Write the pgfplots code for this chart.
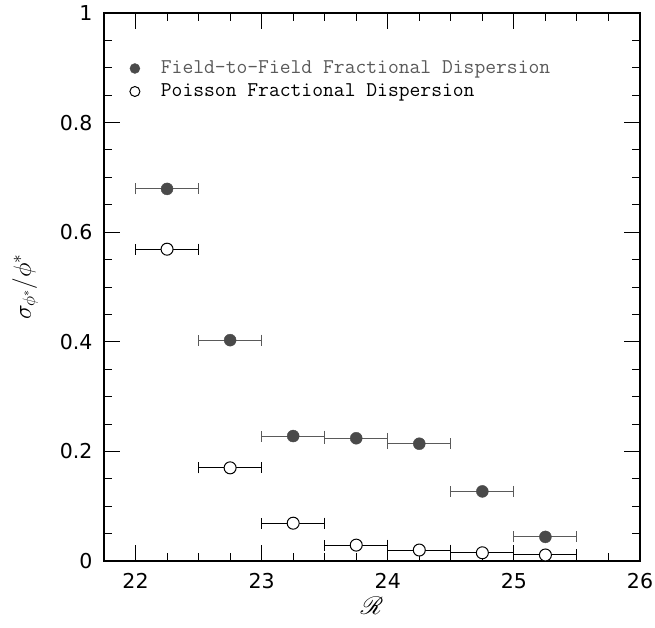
\documentclass[border=0pt]{standalone}
\usepackage{fontspec}
\usepackage{mathrsfs}
\usepackage{pgfplots}
\pgfplotsset{compat=1.18}
\newfontfamily\tickfont{DejaVu Sans}
\definecolor{fgray}{HTML}{4A4A4A}
\definecolor{bgray}{HTML}{5A5A5A}
\pgfplotstableread{
x y ex
22.25 0.679 0.25
22.75 0.403 0.25
23.25 0.228 0.25
23.75 0.224 0.25
24.25 0.214 0.25
24.75 0.127 0.25
25.25 0.044 0.25
}\fieldtab
\pgfplotstableread{
x y ex
22.25 0.569 0.25
22.75 0.170 0.25
23.25 0.069 0.25
23.75 0.029 0.25
24.25 0.020 0.25
24.75 0.015 0.25
25.25 0.011 0.25
}\poissontab
\begin{document}
\begin{tikzpicture}
\begin{axis}[
 scale only axis, width=536pt, height=548pt,
 xmin=21.75, xmax=26, ymin=0, ymax=1,
 xtick={22,23,24,25,26}, ytick={0,0.2,0.4,0.6,0.8,1},
 minor x tick num=3, minor y tick num=3,
 major tick length=16pt, minor tick length=8pt,
 every tick/.style={line width=1pt, black},
 axis line style={line width=1.6pt},
 /pgf/number format/assume math mode=true,
 tick label style={font=\tickfont\fontsize{20.5}{24}\selectfont},
 yticklabel style={xshift=-8pt},
 xticklabel style={yshift=-9pt},
 xlabel={$\mathscr{R}$}, ylabel={$\sigma_{\phi^*}/\phi^*$},
 every axis x label/.style={at={(axis description cs:0.5,-0.082)}, anchor=center, font=\fontsize{26}{30}\selectfont},
 every axis y label/.style={at={(axis description cs:-0.147,0.5)}, rotate=90, anchor=center, font=\fontsize{24}{28}\selectfont},
 legend cell align=left,
 legend style={at={(axis cs:21.93,0.921)}, anchor=north west, draw=none, fill=none,
   font=\ttfamily\fontsize{21}{22}\selectfont, row sep=3pt, column sep=20pt,
   nodes={inner sep=1pt, text height=14pt, text depth=4pt}},
 legend image post style={mark size=5pt},
]
\addplot[only marks, mark=*, mark size=6pt, mark options={fill=fgray, draw=fgray},
  error bars/.cd, x dir=both, x explicit,
  error bar style={line width=1pt, color=bgray},
  error mark options={line width=1pt, mark size=5.5pt, color=bgray, rotate=90}]
  table[x=x, y=y, x error=ex] {\fieldtab};
\addlegendentry{\textcolor{bgray}{Field-to-Field Fractional Dispersion}}
\addplot[only marks, mark=*, mark size=6pt, mark options={fill=white, draw=black, line width=1pt},
  error bars/.cd, x dir=both, x explicit,
  error bar style={line width=1pt, color=black},
  error mark options={line width=1pt, mark size=5.5pt, color=black, rotate=90}]
  table[x=x, y=y, x error=ex] {\poissontab};
\addlegendentry{Poisson Fractional Dispersion}
\end{axis}
\pgfresetboundingbox
\useasboundingbox ([xshift=-104pt,yshift=-66pt]current axis.south west) rectangle ([xshift=15pt,yshift=13pt]current axis.north east);
\end{tikzpicture}
\end{document}
